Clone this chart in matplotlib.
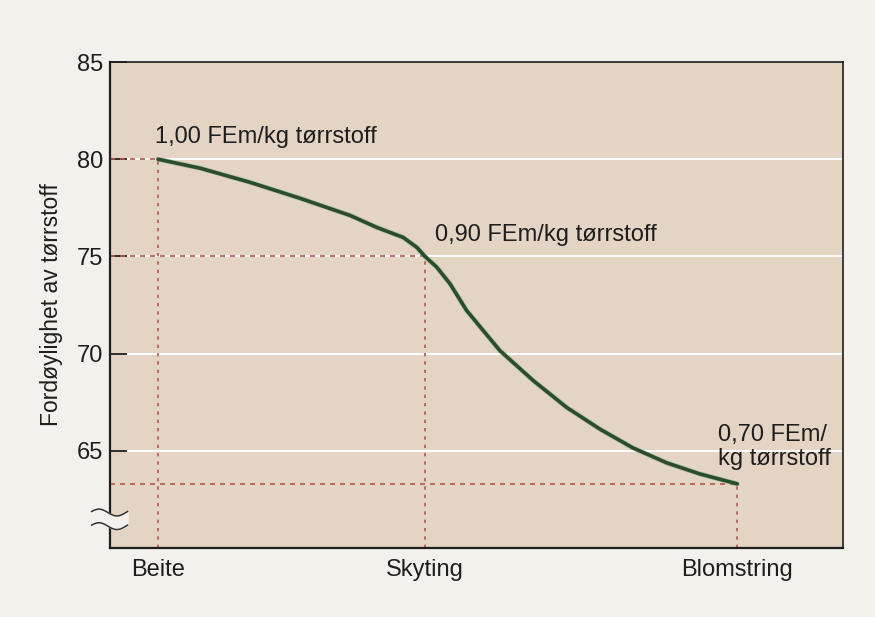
import numpy as np
import matplotlib

matplotlib.use("Agg")
import matplotlib.pyplot as plt
import matplotlib.patheffects as pe

# stages on the x axis (position along the growth period)
stages = ["Beite", "Skyting", "Blomstring"]
stage_x = [0.0, 1.0, 2.17]
stage_y = [80.0, 75.0, 63.3]
stage_labels = ["1,00 FEm/kg tørrstoff", "0,90 FEm/kg tørrstoff", "0,70 FEm/\nkg tørrstoff"]

# digestibility curve
curve_x = [0.0, 0.157, 0.345, 0.532, 0.719, 0.820, 0.918, 0.970, 1.0, 1.044, 1.094, 1.156,
           1.218, 1.281, 1.406, 1.531, 1.655, 1.779, 1.906, 2.03, 2.17]
curve_y = [80.0, 79.54, 78.81, 77.99, 77.11, 76.49, 75.98, 75.46, 75.0, 74.45, 73.59, 72.22,
           71.19, 70.15, 68.61, 67.23, 66.12, 65.15, 64.38, 63.81, 63.3]

yticks = [65, 70, 75, 80, 85]

plt.rcParams["font.family"] = ["Liberation Sans", "DejaVu Sans"]

FIG_BG = "#f3f1ec"
AX_BG = "#e3d4c4"
RED = "#b4564c"
GREEN = "#2b4d2c"
INK = "#1e1e1e"

fig = plt.figure(figsize=(8.75, 6.17), dpi=100, facecolor=FIG_BG)
ax = fig.add_axes([0.1257, 0.1118, 0.8377, 0.7877], facecolor=AX_BG)

ax.set_xlim(-0.18, 2.566)
ax.set_ylim(60, 85)

# white horizontal grid
for v in yticks[:-1]:
    ax.axhline(v, color="white", lw=1.4, zorder=1)

# red guide lines to each stage
for sx, sy in zip(stage_x, stage_y):
    ax.plot([ax.get_xlim()[0], sx], [sy, sy], color=RED, lw=1.2, ls=(0, (3, 3)), zorder=2)
    ax.plot([sx, sx], [60, sy], color=RED, lw=1.2, ls=(0, (2, 3)), zorder=2)

ax.plot(curve_x, curve_y, color=GREEN, lw=2.6, solid_capstyle="round", solid_joinstyle="round",
        zorder=3, path_effects=[pe.Stroke(linewidth=3.6, foreground="#7fae7c", alpha=0.5), pe.Normal()])

# annotations
ax.text(stage_x[0] - 0.011, 81.13, stage_labels[0], fontsize=17, ha="left", va="center", color=INK)
ax.text(stage_x[1] + 0.037, 76.08, stage_labels[1], fontsize=17, ha="left", va="center", color=INK)
ax.text(stage_x[2] - 0.073, 65.2, stage_labels[2], fontsize=17, ha="left", va="center",
        color=INK, linespacing=1.15)

ax.set_yticks(yticks)
ax.set_yticklabels([str(t) for t in yticks], fontsize=17, color=INK)
ax.tick_params(axis="y", direction="in", length=12, width=1.3, pad=5, color=INK)
ax.set_xticks(stage_x)
ax.set_xticklabels(stages, fontsize=17, color=INK)
ax.tick_params(axis="x", length=0, pad=8)

ax.set_ylabel("Fordøylighet av tørrstoff", fontsize=16.5, color=INK, labelpad=10)

for side in ["top", "right"]:
    ax.spines[side].set_linewidth(1.2)
for side in ["left", "bottom"]:
    ax.spines[side].set_linewidth(1.6)
for s in ax.spines.values():
    s.set_color(INK)

# axis-break marks on the y axis
trans = ax.transAxes
t = np.linspace(0, 1, 60)
bx = -0.025 + 0.049 * t
wave = 0.007 * np.sin(2 * np.pi * t + 0.3)
y1, y2 = 0.073, 0.045
ax.fill_between(bx, y2 + wave, y1 + wave, color=FIG_BG, transform=trans, clip_on=False, zorder=5)
ax.plot(bx, y1 + wave, color="#333333", lw=1.1, transform=trans, clip_on=False, zorder=6)
ax.plot(bx, y2 + wave, color="#333333", lw=1.1, transform=trans, clip_on=False, zorder=6)

fig.savefig("out.png", dpi=100, facecolor=FIG_BG)
